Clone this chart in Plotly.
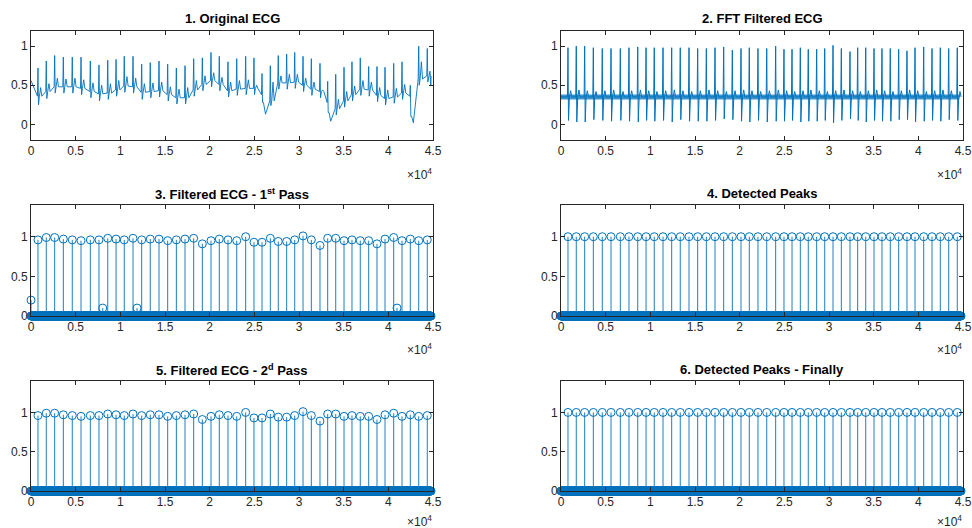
import numpy as np
import plotly.graph_objects as go

# ---------------- data ----------------
N_SAMPLES = 44800

PEAK_X = [780, 1710, 2650, 3620, 4620, 5600, 6640, 7610, 8590, 9520, 10440, 11420,
          12390, 13350, 14330, 15300, 16270, 17240, 18210, 19180, 20150, 21080, 22050,
          23030, 24030, 24960, 25860, 26790, 27680, 28620, 29520, 30450, 31380, 32350,
          33210, 34110, 35040, 35930, 36860, 37800, 38730, 39630, 40600, 41530, 42460,
          43400, 44360]

# 1. Original ECG: per-beat baseline, R peak, S trough, T bump
ORIG_BASE = [0.36, 0.42, 0.48, 0.48, 0.48, 0.46, 0.42, 0.39, 0.40, 0.44, 0.49, 0.48,
             0.41, 0.42, 0.43, 0.38, 0.34, 0.34, 0.44, 0.51, 0.56, 0.51, 0.43, 0.45,
             0.46, 0.46, 0.38, 0.30, 0.53, 0.53, 0.54, 0.50, 0.45, 0.42, 0.28, 0.20,
             0.30, 0.38, 0.45, 0.44, 0.37, 0.33, 0.35, 0.40, 0.36, 0.58, 0.62]
ORIG_R = [0.72, 0.81, 0.88, 0.86, 0.86, 0.86, 0.81, 0.76, 0.82, 0.83, 0.87, 0.87,
          0.77, 0.79, 0.81, 0.77, 0.72, 0.75, 0.84, 0.85, 0.92, 0.87, 0.80, 0.84,
          0.87, 0.85, 0.65, 0.75, 0.88, 0.90, 0.92, 0.87, 0.84, 0.78, 0.55, 0.64,
          0.73, 0.80, 0.85, 0.74, 0.74, 0.73, 0.78, 0.80, 0.50, 1.00, 0.97]
ORIG_S = [0.25, 0.33, 0.40, 0.40, 0.40, 0.38, 0.34, 0.30, 0.32, 0.36, 0.41, 0.40,
          0.32, 0.34, 0.35, 0.30, 0.26, 0.26, 0.36, 0.43, 0.48, 0.43, 0.35, 0.37,
          0.38, 0.38, 0.28, 0.24, 0.45, 0.45, 0.46, 0.42, 0.37, 0.34, 0.15, 0.12,
          0.22, 0.30, 0.37, 0.36, 0.29, 0.25, 0.27, 0.32, 0.10, 0.50, 0.54]
ORIG_T = [0.47, 0.52, 0.59, 0.58, 0.59, 0.57, 0.53, 0.50, 0.52, 0.56, 0.61, 0.59,
          0.52, 0.53, 0.54, 0.48, 0.45, 0.47, 0.56, 0.62, 0.66, 0.60, 0.54, 0.56,
          0.57, 0.50, 0.20, 0.54, 0.62, 0.64, 0.64, 0.59, 0.54, 0.44, 0.08, 0.32,
          0.42, 0.49, 0.56, 0.54, 0.47, 0.44, 0.46, 0.51, 0.05, 0.80, 0.68]
ORIG_DIP_X = [26250, 33550, 42800]
ORIG_DIP_Y = [0.13, 0.04, 0.02]
ORIG_EDGE_X = [0, 44750]
ORIG_EDGE_Y = [0.56, 0.50]

# 2. FFT filtered ECG
FFT_BASE = [0.35, 0.35, 0.35, 0.35, 0.35, 0.35, 0.35, 0.35, 0.35, 0.35, 0.35, 0.35,
            0.35, 0.35, 0.35, 0.35, 0.35, 0.35, 0.35, 0.35, 0.35, 0.35, 0.35, 0.35,
            0.35, 0.35, 0.35, 0.35, 0.35, 0.35, 0.35, 0.35, 0.35, 0.35, 0.35, 0.35,
            0.35, 0.35, 0.35, 0.35, 0.35, 0.35, 0.35, 0.35, 0.35, 0.35, 0.35]
FFT_R = [0.98, 1.00, 1.00, 0.98, 0.97, 0.97, 0.97, 0.98, 0.99, 0.98, 0.98, 0.98,
         0.98, 0.98, 0.98, 0.97, 0.97, 0.98, 0.99, 0.95, 0.97, 0.98, 0.97, 0.97,
         1.00, 0.96, 0.96, 0.98, 0.96, 0.96, 0.97, 1.01, 0.97, 0.93, 0.98, 0.98,
         0.97, 0.97, 0.97, 0.96, 0.94, 0.98, 0.99, 0.97, 0.98, 0.97, 0.98]
FFT_S = [0.05, 0.03, 0.03, 0.06, 0.05, 0.04, 0.05, 0.04, 0.03, 0.05, 0.04, 0.05,
         0.03, 0.06, 0.04, 0.04, 0.04, 0.05, 0.07, 0.06, 0.04, 0.03, 0.05, 0.03,
         0.04, 0.04, 0.05, 0.03, 0.04, 0.04, 0.05, 0.02, 0.05, 0.07, 0.05, 0.03,
         0.05, 0.04, 0.04, 0.06, 0.06, 0.03, 0.04, 0.05, 0.04, 0.06, 0.05]
FFT_T = [0.43, 0.44, 0.43, 0.42, 0.43, 0.44, 0.42, 0.43, 0.44, 0.43, 0.42, 0.43,
         0.44, 0.43, 0.42, 0.43, 0.44, 0.43, 0.42, 0.43, 0.44, 0.43, 0.42, 0.43,
         0.44, 0.43, 0.42, 0.43, 0.44, 0.43, 0.42, 0.43, 0.44, 0.43, 0.42, 0.43,
         0.44, 0.43, 0.42, 0.43, 0.44, 0.43, 0.42, 0.43, 0.44, 0.43, 0.42]

# 3. Filtered ECG - 1st pass (stem values at the peaks)
PASS_Y = [0.96, 0.99, 0.99, 0.97, 0.96, 0.95, 0.96, 0.96, 0.98, 0.97, 0.96, 0.98,
          0.96, 0.97, 0.97, 0.95, 0.96, 0.97, 0.98, 0.91, 0.95, 0.97, 0.96, 0.95,
          1.00, 0.93, 0.93, 0.98, 0.94, 0.94, 0.96, 1.01, 0.96, 0.89, 0.98, 0.98,
          0.95, 0.96, 0.95, 0.95, 0.91, 0.97, 0.99, 0.95, 0.97, 0.95, 0.96]
PASS1_EXTRA_X = [0, 8030, 11870, 40970]
PASS1_EXTRA_Y = [0.20, 0.10, 0.10, 0.10]

# 4/6. detected peaks (binary)
DETECT_Y = [1] * len(PEAK_X)

X_TICKS = [0, 5000, 10000, 15000, 20000, 25000, 30000, 35000, 40000, 45000]
X_TICK_TEXT = ["0", "0.5", "1", "1.5", "2", "2.5", "3", "3.5", "4", "4.5"]
Y_TICKS = [0, 0.5, 1]
Y_TICK_TEXT = ["0", "0.5", "1"]

TITLES = ["1. Original ECG", "2. FFT Filtered ECG",
          "3. Filtered ECG - 1<sup>st</sup> Pass", "4. Detected Peaks",
          "5. Filtered ECG - 2<sup>d</sup> Pass", "6. Detected Peaks - Finally"]

# ---------------- styling ----------------
BLUE = "#0072BD"
AX = "#262626"
FONT = "Liberation Sans, Arial, sans-serif"
W, H = 972, 528
COLS = [(31, 433), (561, 963)]
ROWS = [(30.5, 140), (205, 316), (381, 491)]
TITLE_Y = [18.5, 193.5, 369.5]
EXP_Y = [174, 349, 521]

fig = go.Figure()


def axis_names(k):
    return ("x" if k == 1 else f"x{k}", "y" if k == 1 else f"y{k}")


def build_line(base, r, s, t, extra_x, extra_y):
    """Polyline through the read beat features: baseline, R, S, back to baseline, T."""
    vx, vy = list(extra_x), list(extra_y)
    for xp, b, rv, sv, tv in zip(PEAK_X, base, r, s, t):
        vx += [xp - 60, xp, xp + 60, xp + 160, xp + 300]
        vy += [b, rv, sv, b if tv >= b else sv, tv]
        if tv >= b:  # T wave returns to baseline
            vx.append(xp + 430)
            vy.append(b)
    order = np.argsort(vx, kind="stable")
    return np.array(vx)[order], np.array(vy)[order]


def add_stem(k, xs, ys):
    xa, ya = axis_names(k)
    sx, sy = [], []
    for xv, yv in zip(xs, ys):
        sx += [xv, xv, None]
        sy += [0, yv, None]
    fig.add_trace(go.Scatter(x=sx, y=sy, mode="lines", line=dict(color=BLUE, width=0.9),
                             xaxis=xa, yaxis=ya, hoverinfo="skip", showlegend=False))
    fig.add_trace(go.Scatter(x=xs, y=ys, mode="markers", cliponaxis=False,
                             marker=dict(symbol="circle-open", size=8, color=BLUE,
                                         line=dict(width=1, color=BLUE)),
                             xaxis=xa, yaxis=ya, showlegend=False))


def add_zero_band(k):
    xa, ya = axis_names(k)
    zx = np.arange(0, N_SAMPLES, 25)
    fig.add_trace(go.Scatter(x=zx, y=np.zeros(len(zx)), mode="markers", cliponaxis=False,
                             marker=dict(symbol="circle-open", size=8, color=BLUE,
                                         line=dict(width=1, color=BLUE)),
                             xaxis=xa, yaxis=ya, hoverinfo="skip", showlegend=False))


# panel 1
x1, y1 = build_line(ORIG_BASE, ORIG_R, ORIG_S, ORIG_T,
                    ORIG_EDGE_X + ORIG_DIP_X, ORIG_EDGE_Y + ORIG_DIP_Y)
fig.add_trace(go.Scatter(x=x1, y=y1, mode="lines", line=dict(color=BLUE, width=0.9),
                         xaxis="x", yaxis="y", showlegend=False))

# panel 2: noise band + beats
fig.add_trace(go.Scatter(x=[0] + PEAK_X + [N_SAMPLES - 200],
                         y=[FFT_BASE[0]] + FFT_BASE + [FFT_BASE[-1]],
                         mode="lines", line=dict(color=BLUE, width=5), opacity=0.75,
                         xaxis="x2", yaxis="y2", showlegend=False))
x2, y2 = build_line(FFT_BASE, FFT_R, FFT_S, FFT_T, [0, N_SAMPLES - 200],
                    [FFT_BASE[0], FFT_BASE[-1]])
fig.add_trace(go.Scatter(x=x2, y=y2, mode="lines", line=dict(color=BLUE, width=1),
                         xaxis="x2", yaxis="y2", showlegend=False))

# panel 3
add_zero_band(3)
add_stem(3, PEAK_X + PASS1_EXTRA_X, PASS_Y + PASS1_EXTRA_Y)
# panel 4
add_zero_band(4)
add_stem(4, PEAK_X, DETECT_Y)
# panel 5
add_zero_band(5)
add_stem(5, PEAK_X, PASS_Y)
# panel 6
add_zero_band(6)
add_stem(6, PEAK_X, DETECT_Y)

layout = dict(width=W, height=H, margin=dict(l=0, r=0, t=0, b=0),
              paper_bgcolor="white", plot_bgcolor="white",
              font=dict(family=FONT, color=AX, size=12), showlegend=False)
annotations = []
for k in range(1, 7):
    row, col = (k - 1) // 2, (k - 1) % 2
    x0, x1p = COLS[col]
    top, bot = ROWS[row]
    xa = "xaxis" if k == 1 else f"xaxis{k}"
    ya = "yaxis" if k == 1 else f"yaxis{k}"
    yr = [-0.2, 1.2] if k <= 2 else [0, 1.4]
    common = dict(showline=True, linecolor=AX, linewidth=1, mirror="ticks",
                  ticks="inside", ticklen=4, tickcolor=AX, tickwidth=1, automargin=False,
                  showgrid=False, zeroline=False, tickfont=dict(size=12, color=AX, family=FONT))
    layout[xa] = dict(domain=[x0 / W, x1p / W], range=[0, 45000], tickmode="array",
                      tickvals=X_TICKS, ticktext=X_TICK_TEXT,
                      anchor=("y" if k == 1 else f"y{k}"), **common)
    layout[ya] = dict(domain=[1 - bot / H, 1 - top / H], range=yr, tickmode="array",
                      tickvals=Y_TICKS, ticktext=Y_TICK_TEXT,
                      anchor=("x" if k == 1 else f"x{k}"), **common)
    annotations.append(dict(text="<b>" + TITLES[k - 1] + "</b>", x=(x0 + x1p) / 2 / W,
                            y=1 - TITLE_Y[row] / H, xref="paper", yref="paper",
                            xanchor="center", yanchor="middle", showarrow=False,
                            font=dict(size=13, color="black", family=FONT)))
    annotations.append(dict(text="×10<sup>4</sup>", x=(x1p + 1) / W, y=1 - EXP_Y[row] / H,
                            xref="paper", yref="paper", xanchor="right", yanchor="middle",
                            showarrow=False, font=dict(size=12, color=AX, family=FONT)))
layout["annotations"] = annotations
fig.update_layout(**layout)
fig.write_html("out.html", config={"displayModeBar": False},
               post_script="document.body.style.margin='0';document.body.style.padding='0';"
                           "document.body.style.overflow='hidden';")
